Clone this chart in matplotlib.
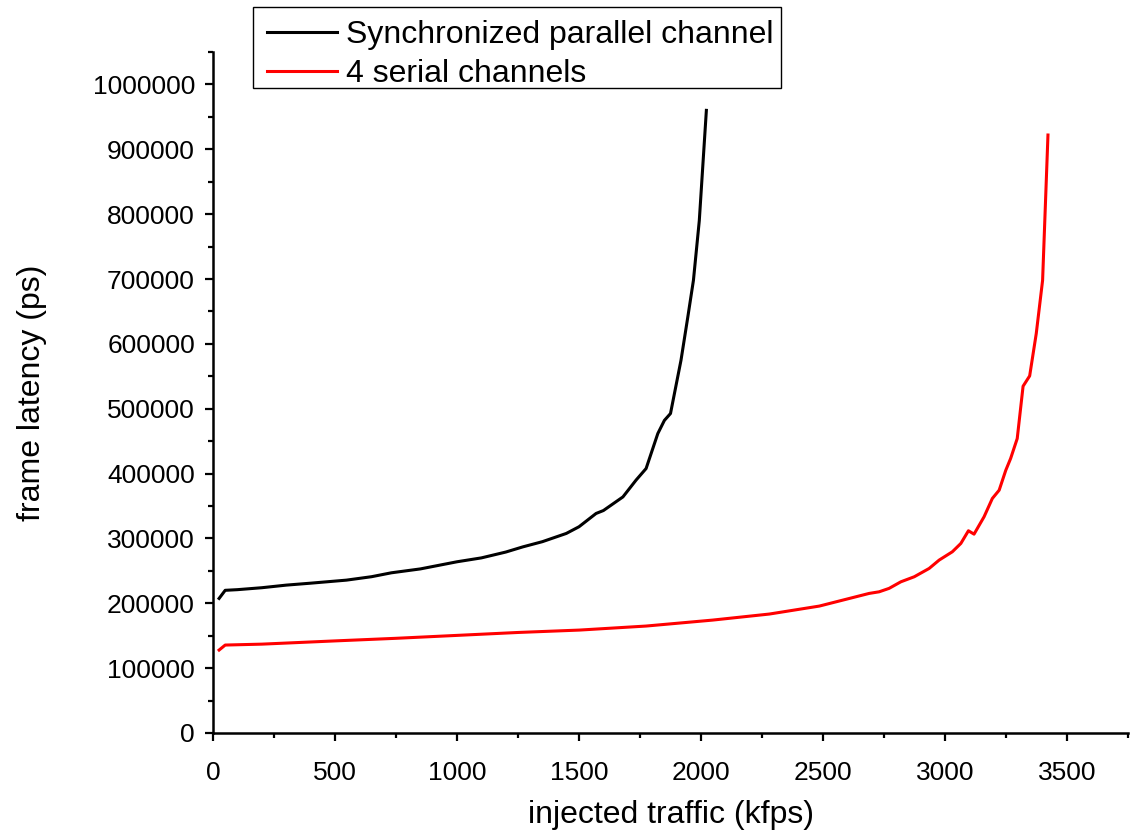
import matplotlib
matplotlib.use("Agg")
import matplotlib.pyplot as plt
from matplotlib.ticker import MultipleLocator, FuncFormatter
from matplotlib.patches import Rectangle

plt.rcParams['font.family'] = ['Liberation Sans', 'DejaVu Sans']

# Synchronized parallel channel
par_x = [25, 50, 100, 200, 300, 400, 547, 650, 731, 850, 1000, 1100, 1200, 1270,
         1350, 1448, 1500, 1570, 1600, 1680, 1734, 1775, 1823, 1850, 1875, 1918,
         1946, 1969, 1993, 2022]
par_y = [207500, 220000, 221000, 224000, 228000, 231000, 235700, 241000, 247000,
         253000, 264000, 270000, 279000, 287000, 295000, 307700, 318000, 338500,
         343000, 364000, 390000, 407800, 461700, 482000, 492600, 574700, 641500,
         698000, 790000, 960000]

# 4 serial channels
ser_x = [25, 50, 200, 500, 750, 1000, 1250, 1502, 1775, 2048, 2280, 2485, 2689,
         2730, 2771, 2819, 2874, 2935, 2976, 3030, 3065, 3096, 3119, 3160, 3194,
         3222, 3249, 3269, 3296, 3320, 3347, 3374, 3400, 3422]
ser_y = [127900, 135600, 137000, 142000, 146000, 150500, 155000, 158700, 164900,
         174100, 183400, 195700, 215200, 217700, 223000, 233100, 240900, 253700,
         266600, 279400, 292300, 311800, 306600, 333300, 361600, 374400, 405000,
         423300, 454000, 534700, 550600, 615900, 698000, 922000]

labels = ["Synchronized parallel channel", "4 serial channels"]
xlabel = "injected traffic (kfps)"
ylabel = "frame latency (ps)"

W, H = 1133, 836
fig = plt.figure(figsize=(W / 100, H / 100), dpi=100)
ax = fig.add_axes([213 / W, 1 - 733 / H, (1128 - 213) / W, (733 - 52) / H])

l1, = ax.plot(par_x, par_y, color='black', lw=2.2)
l2, = ax.plot(ser_x, ser_y, color='red', lw=2.2)

ax.set_xlim(0, 3750)
ax.set_ylim(0, 1050000)
ax.xaxis.set_major_locator(MultipleLocator(500))
ax.xaxis.set_minor_locator(MultipleLocator(250))
ax.yaxis.set_major_locator(MultipleLocator(100000))
ax.yaxis.set_minor_locator(MultipleLocator(50000))
ax.yaxis.set_major_formatter(FuncFormatter(lambda v, p: "%d" % round(v)))
ax.xaxis.set_major_formatter(FuncFormatter(lambda v, p: "%d" % round(v)))

for s in ['top', 'right']:
    ax.spines[s].set_visible(False)
for s in ['left', 'bottom']:
    ax.spines[s].set_linewidth(1.8)

ax.tick_params(which='major', direction='out', length=6, width=1.6,
               labelsize=19, pad=7)
ax.tick_params(which='minor', direction='out', length=3.5, width=1.6)
ax.tick_params(axis='x', which='major', pad=14)

ax.set_xlabel(xlabel, fontsize=23, labelpad=11)
ax.set_ylabel(ylabel, fontsize=23, labelpad=33)

leg = fig.legend([l1, l2], labels, loc='lower left',
                 bbox_to_anchor=(264 / W, 1 - 92 / H), borderaxespad=0,
                 fontsize=23, frameon=False,
                 handlelength=2.2, handletextpad=0.3, labelspacing=0.3,
                 borderpad=0.08)
# legend frame (layout only)
fig.patches.append(Rectangle((253 / W, 1 - 88 / H), (781 - 253) / W, (88 - 7) / H,
                             transform=fig.transFigure, fill=False,
                             edgecolor='black', linewidth=1.0))

fig.savefig("out.png", dpi=100)
